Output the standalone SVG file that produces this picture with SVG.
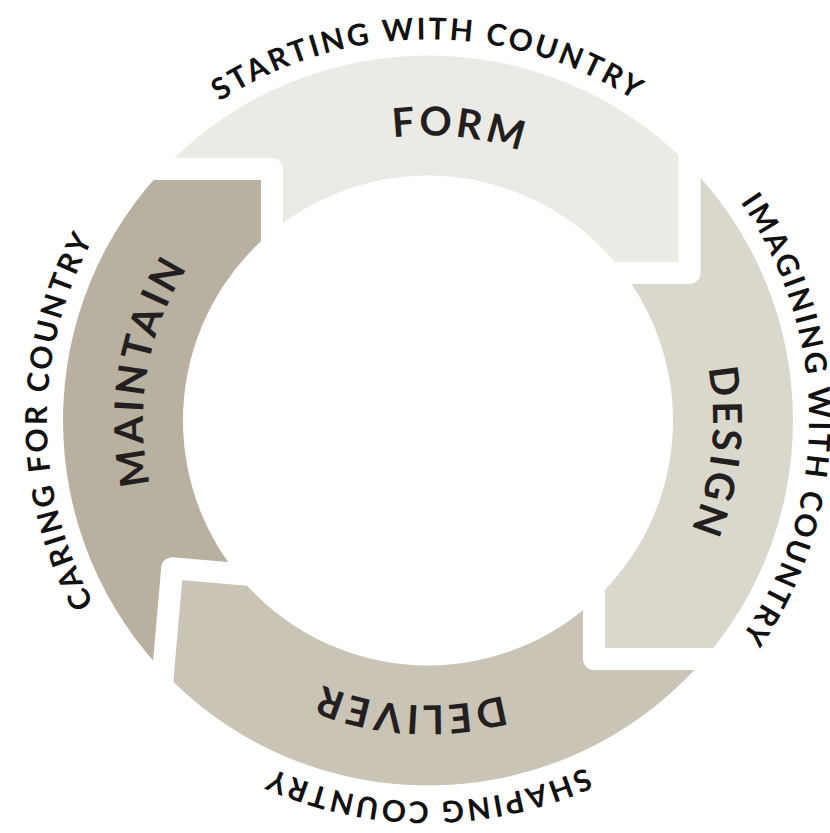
<svg xmlns="http://www.w3.org/2000/svg" width="830" height="833" viewBox="0 0 830 833">
<style>
.lbl{font-family:Lato,"Liberation Sans",sans-serif;font-weight:700;font-size:40px;letter-spacing:3.6px;fill:#231f20}
.out{font-family:Lato,"Liberation Sans",sans-serif;font-weight:700;font-size:30px;letter-spacing:2.7px;fill:#111}
.gap{fill:none;stroke:#fff;stroke-width:22;stroke-linejoin:round;stroke-linecap:butt}
</style>
<defs>
<clipPath id="ring"><path clip-rule="evenodd" d="M63 420.5a365 365 0 1 0 730 0a365 365 0 1 0 -730 0ZM183 420.5a245 245 0 1 0 490 0a245 245 0 1 0 -490 0Z"/></clipPath>
<path id="po" d="M428 801.5A381 381 0 1 1 428 39.5A381 381 0 1 1 428 801.5A381 381 0 1 1 428 39.5A381 381 0 1 1 428 801.5"/>
<path id="pi" d="M428 705.5A285 285 0 1 1 428 135.5A285 285 0 1 1 428 705.5A285 285 0 1 1 428 135.5A285 285 0 1 1 428 705.5"/>
</defs>
<g id="form">
<polygon clip-path="url(#ring)" fill="#ebeae5" points="272,169 -10,169 -10,-10 689.5,-10 689.5,273 428,273 272,300"/>
<text class="lbl" text-anchor="middle"><textPath href="#pi" startOffset="25.875%">FORM</textPath></text>
<text class="out" text-anchor="middle"><textPath href="#po" startOffset="25%">STARTING WITH COUNTRY</textPath></text>
</g>
<g id="design">
<polygon clip-path="url(#ring)" fill="#dad8cd" points="689.5,273 689.5,-10 840,-10 840,659 594,659 594,480 450,273"/>
<text class="lbl" text-anchor="middle"><textPath href="#pi" startOffset="38.375%">DESIGN</textPath></text>
<text class="out" text-anchor="middle"><textPath href="#po" startOffset="37.5%">IMAGINING WITH COUNTRY</textPath></text>
</g>
<g id="deliver">
<polygon clip-path="url(#ring)" fill="#c9c4b6" points="594,659 840,659 840,840 148.5,840 172.2,568.2 300,579.4 594,500"/>
<text class="lbl" text-anchor="middle"><textPath href="#pi" startOffset="50.49%">DELIVER</textPath></text>
<text class="out" text-anchor="middle"><textPath href="#po" startOffset="50%">SHAPING COUNTRY</textPath></text>
</g>
<g id="maintain">
<polygon clip-path="url(#ring)" fill="#b8b1a0" points="272,169 -10,169 -10,840 148.5,840 172.2,568.2 300,579.4 272,300"/>
<text class="lbl" text-anchor="middle"><textPath href="#pi" startOffset="63.89%">MAINTAIN</textPath></text>
<text class="out" text-anchor="middle"><textPath href="#po" startOffset="62.5%">CARING FOR COUNTRY</textPath></text>
</g>
<g id="gaps">
<polyline class="gap" points="140,169 272,169 272,300"/>
<polyline class="gap" points="689.5,130 689.5,273 560,273"/>
<polyline class="gap" points="740,659 594,659 594,540"/>
<polyline class="gap" points="300,579.4 172.2,568.2 158.9,720"/>
</g>
</svg>
